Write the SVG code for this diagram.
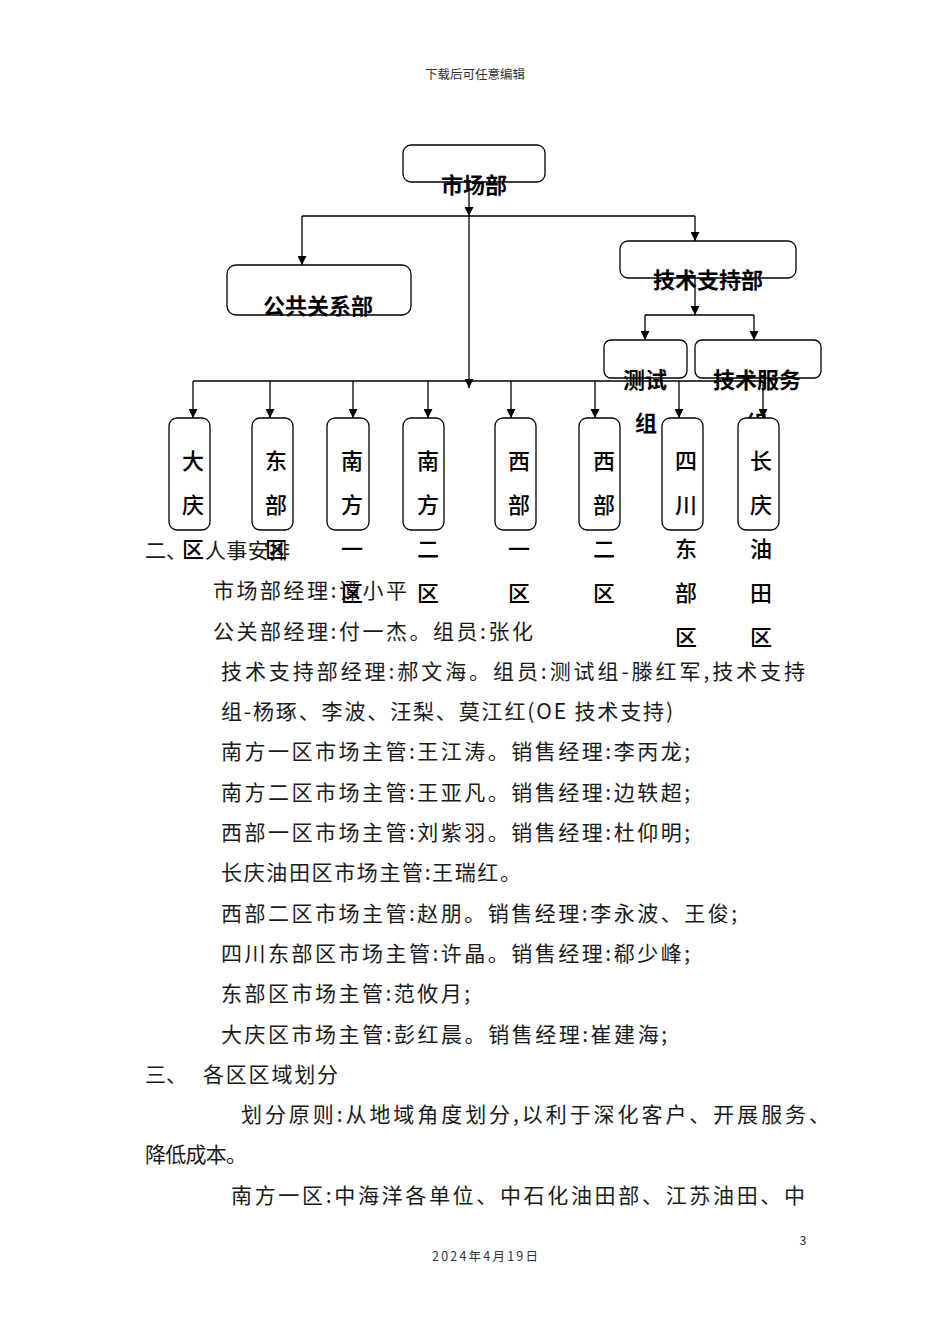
<svg xmlns="http://www.w3.org/2000/svg" width="950" height="1344" viewBox="0 0 950 1344">
<style>
.box{fill:#fff;stroke:#000;stroke-width:1.3}
.lbl{font-family:"Noto Sans CJK SC","Noto Sans CJK JP",sans-serif;font-size:22px;font-weight:bold;text-anchor:middle;fill:#000}
.vl{font-family:"Noto Sans CJK SC","Noto Sans CJK JP",sans-serif;font-size:22px;font-weight:500;text-anchor:middle;fill:#000}
.cjk{font-family:"Noto Sans CJK SC","Noto Sans CJK JP",sans-serif;font-size:21px;fill:#1a1a1a}
.small{font-family:"Noto Sans CJK SC","Noto Sans CJK JP",sans-serif;font-size:12.5px;fill:#333}
.conn path{stroke:#000;stroke-width:1.3;fill:none}
</style>
<defs>
<marker id="arr" markerWidth="10" markerHeight="9" refX="9" refY="4.5" orient="auto" markerUnits="userSpaceOnUse"><path d="M0,0 L9,4.5 L0,9 z" fill="#000"/></marker>
</defs>
<rect x="0" y="0" width="950" height="1344" fill="#fff"/>
<text class="small" x="475" y="79" text-anchor="middle">下载后可任意编辑</text>

<g id="connectors" class="conn">
<path d="M469,182 V216" marker-end="url(#arr)"/>
<path d="M469,216 V388" marker-end="url(#arr)"/>
<path d="M302,216 H695"/>
<path d="M302,216 V265" marker-end="url(#arr)"/>
<path d="M695,216 V241" marker-end="url(#arr)"/>
<path d="M695,278 V315" marker-end="url(#arr)"/>
<path d="M645,315 H754"/>
<path d="M645,315 V340" marker-end="url(#arr)"/>
<path d="M754,315 V340" marker-end="url(#arr)"/>
<path d="M193,381 H763"/>
<path d="M193,381 V418" marker-end="url(#arr)"/>
<path d="M270,381 V418" marker-end="url(#arr)"/>
<path d="M353,381 V418" marker-end="url(#arr)"/>
<path d="M428,381 V418" marker-end="url(#arr)"/>
<path d="M511,381 V418" marker-end="url(#arr)"/>
<path d="M595,381 V418" marker-end="url(#arr)"/>
<path d="M679,381 V418" marker-end="url(#arr)"/>
<path d="M763,381 V418" marker-end="url(#arr)"/>
</g>

<g id="n-market"><rect class="box" x="403" y="145" width="142" height="37" rx="8"/><text class="lbl" x="474" y="193">市场部</text></g>
<g id="n-pr"><rect class="box" x="227" y="265" width="184" height="50" rx="9"/><text class="lbl" x="318" y="314">公共关系部</text></g>
<g id="n-tech"><rect class="box" x="620" y="241" width="176" height="37" rx="8"/><text class="lbl" x="708" y="288">技术支持部</text></g>
<g id="n-test"><rect class="box" x="604" y="340" width="83" height="38" rx="7"/><text class="lbl" x="645" y="388">测试</text><text class="lbl" x="646" y="431">组</text></g>
<g id="n-service"><rect class="box" x="695" y="340" width="126" height="38" rx="7"/><text class="lbl" x="757" y="388">技术服务</text><text class="lbl" x="757" y="431">组</text></g>

<g id="body">
<text class="cjk" x="145" y="558">二、<tspan x="205" textLength="85">人事安排</tspan></text>
<text class="cjk" x="213" y="598" textLength="194" lengthAdjust="spacing">市场部经理:谭小平</text>
<text class="cjk" x="213" y="639" textLength="320" lengthAdjust="spacing">公关部经理:付一杰。组员:张化</text>
<text class="cjk" x="221" y="679" textLength="584" lengthAdjust="spacing">技术支持部经理:郝文海。组员:测试组-滕红军,技术支持</text>
<text class="cjk" x="221" y="719" textLength="452" lengthAdjust="spacing">组-杨琢、李波、汪梨、莫江红(OE 技术支持)</text>
<text class="cjk" x="221" y="759" textLength="469" lengthAdjust="spacing">南方一区市场主管:王江涛。销售经理:李丙龙;</text>
<text class="cjk" x="221" y="800" textLength="469" lengthAdjust="spacing">南方二区市场主管:王亚凡。销售经理:边轶超;</text>
<text class="cjk" x="221" y="840" textLength="469" lengthAdjust="spacing">西部一区市场主管:刘紫羽。销售经理:杜仰明;</text>
<text class="cjk" x="221" y="880" textLength="300" lengthAdjust="spacing">长庆油田区市场主管:王瑞红。</text>
<text class="cjk" x="221" y="921" textLength="516" lengthAdjust="spacing">西部二区市场主管:赵朋。销售经理:李永波、王俊;</text>
<text class="cjk" x="221" y="961" textLength="469" lengthAdjust="spacing">四川东部区市场主管:许晶。销售经理:郗少峰;</text>
<text class="cjk" x="221" y="1001" textLength="249" lengthAdjust="spacing">东部区市场主管:范攸月;</text>
<text class="cjk" x="221" y="1042" textLength="446" lengthAdjust="spacing">大庆区市场主管:彭红晨。销售经理:崔建海;</text>
<text class="cjk" x="145" y="1082">三、<tspan x="203" textLength="135">各区区域划分</tspan></text>
<text class="cjk" x="241" y="1122" textLength="589" lengthAdjust="spacing">划分原则:从地域角度划分,以利于深化客户、开展服务、</text>
<text class="cjk" x="145" y="1162" textLength="102" lengthAdjust="spacing">降低成本。</text>
<text class="cjk" x="231" y="1203" textLength="574" lengthAdjust="spacing">南方一区:中海洋各单位、中石化油田部、江苏油田、中</text>
</g>

<g id="n-daqing"><rect class="box" x="169" y="418" width="41" height="112" rx="8"/><text class="vl"><tspan x="193" y="469">大</tspan><tspan x="193" y="513">庆</tspan><tspan x="193" y="557">区</tspan></text></g>
<g id="n-dongbu"><rect class="box" x="252" y="418" width="41" height="112" rx="8"/><text class="vl"><tspan x="276" y="469">东</tspan><tspan x="276" y="513">部</tspan><tspan x="276" y="557">区</tspan></text></g>
<g id="n-nanfang1"><rect class="box" x="327" y="418" width="42" height="112" rx="8"/><text class="vl"><tspan x="352" y="469">南</tspan><tspan x="352" y="513">方</tspan><tspan x="352" y="557">一</tspan><tspan x="352" y="601">区</tspan></text></g>
<g id="n-nanfang2"><rect class="box" x="403" y="418" width="41" height="112" rx="8"/><text class="vl"><tspan x="428" y="469">南</tspan><tspan x="428" y="513">方</tspan><tspan x="428" y="557">二</tspan><tspan x="428" y="601">区</tspan></text></g>
<g id="n-xibu1"><rect class="box" x="495" y="418" width="41" height="112" rx="8"/><text class="vl"><tspan x="519" y="469">西</tspan><tspan x="519" y="513">部</tspan><tspan x="519" y="557">一</tspan><tspan x="519" y="601">区</tspan></text></g>
<g id="n-xibu2"><rect class="box" x="579" y="418" width="41" height="112" rx="8"/><text class="vl"><tspan x="604" y="469">西</tspan><tspan x="604" y="513">部</tspan><tspan x="604" y="557">二</tspan><tspan x="604" y="601">区</tspan></text></g>
<g id="n-sichuan"><rect class="box" x="662" y="418" width="41" height="112" rx="8"/><text class="vl"><tspan x="686" y="469">四</tspan><tspan x="686" y="513">川</tspan><tspan x="686" y="557">东</tspan><tspan x="686" y="601">部</tspan><tspan x="686" y="645">区</tspan></text></g>
<g id="n-changqing"><rect class="box" x="738" y="418" width="41" height="112" rx="8"/><text class="vl"><tspan x="761" y="469">长</tspan><tspan x="761" y="513">庆</tspan><tspan x="761" y="557">油</tspan><tspan x="761" y="601">田</tspan><tspan x="761" y="645">区</tspan></text></g>

<text class="small" x="803" y="1245" text-anchor="middle">3</text>
<text class="small" x="432" y="1261" textLength="106" lengthAdjust="spacing">2024年4月19日</text>
</svg>
